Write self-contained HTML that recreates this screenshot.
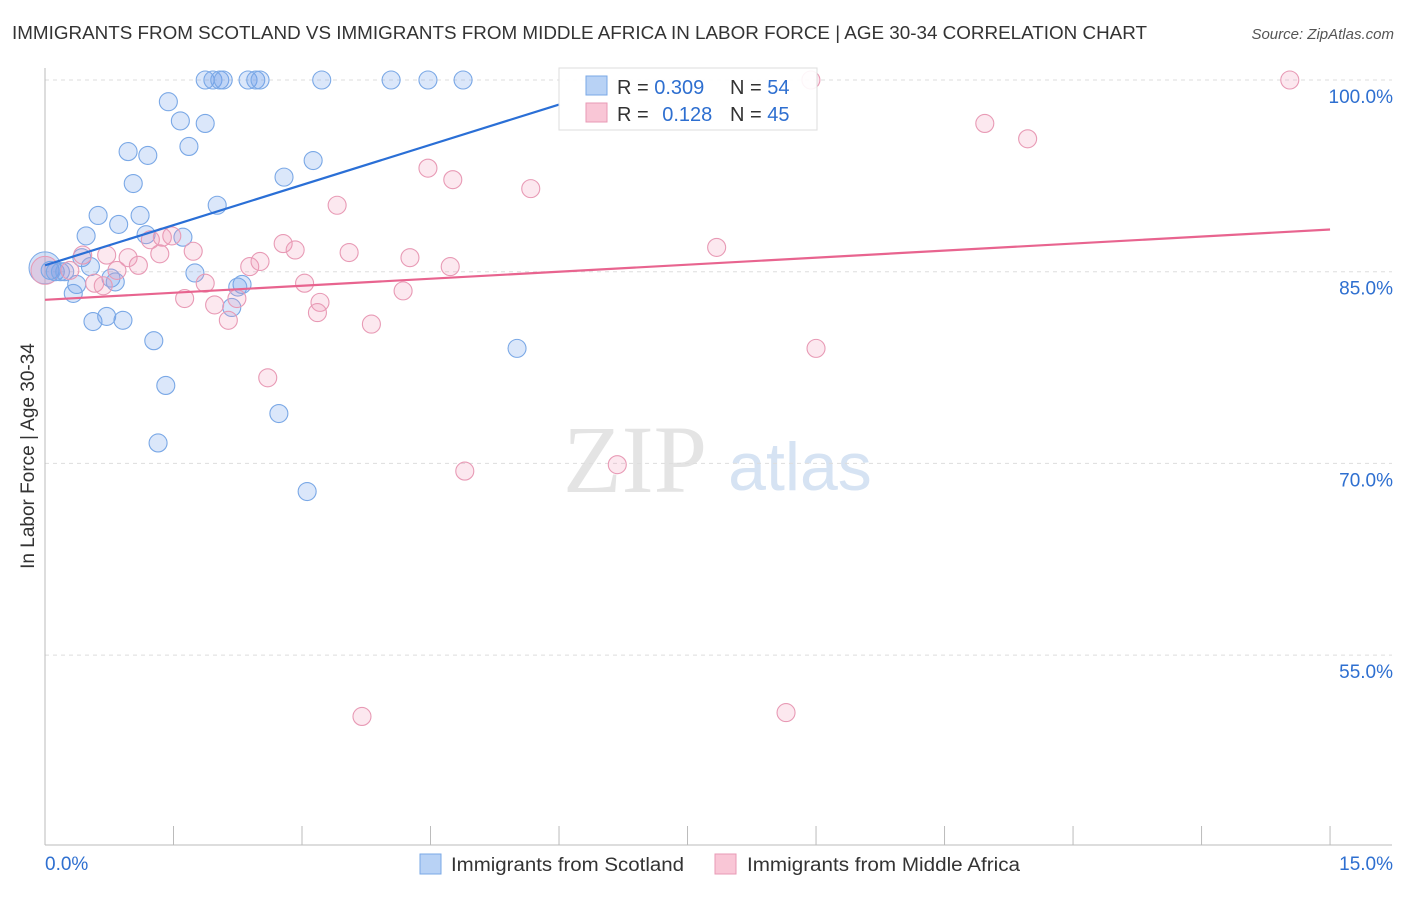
<!DOCTYPE html>
<html><head><meta charset="utf-8"><style>
body{margin:0;background:#fff;font-family:"Liberation Sans",sans-serif;}
</style></head><body>
<svg id="c" width="1406" height="892" xmlns="http://www.w3.org/2000/svg">
<text x="12" y="39" font-size="18" fill="#333" textLength="1135" lengthAdjust="spacingAndGlyphs">IMMIGRANTS FROM SCOTLAND VS IMMIGRANTS FROM MIDDLE AFRICA IN LABOR FORCE | AGE 30-34 CORRELATION CHART</text>
<text x="1394" y="39" font-size="15" fill="#555" font-style="italic" text-anchor="end">Source: ZipAtlas.com</text>
<text x="635" y="492" font-size="96" fill="#e4e4e4" font-family="Liberation Serif" text-anchor="middle">ZIP</text>
<text x="800" y="490" font-size="68" fill="#d6e3f3" text-anchor="middle">atlas</text>
<g id="grid"></g><g id="axes"></g><g id="pts"></g><g id="lines"></g>
<text transform="translate(34,456) rotate(-90)" font-size="19" fill="#333" text-anchor="middle">In Labor Force | Age 30-34</text>
<g>
<rect x="559" y="68" width="258" height="62" fill="rgba(255,255,255,0.9)" stroke="#ddd"/>
<rect x="586" y="76" width="21" height="19" fill="#b8d2f5" stroke="#7aa8e6"/>
<text x="617" y="94" font-size="20" fill="#333">R = <tspan fill="#2e6fd0">0.309</tspan></text>
<text x="730" y="94" font-size="20" fill="#333">N = <tspan fill="#2e6fd0">54</tspan></text>
<rect x="586" y="103" width="21" height="19" fill="#f9c6d6" stroke="#e89ab5"/>
<text x="617" y="121" font-size="20" fill="#333">R = <tspan fill="#2e6fd0" dx="8">0.128</tspan></text>
<text x="730" y="121" font-size="20" fill="#333">N = <tspan fill="#2e6fd0">45</tspan></text>
</g>
<g>
<rect x="420" y="854" width="21" height="20" fill="#b8d2f5" stroke="#7aa8e6"/>
<text x="451" y="871" font-size="19" fill="#333" textLength="233" lengthAdjust="spacingAndGlyphs">Immigrants from Scotland</text>
<rect x="715" y="854" width="21" height="20" fill="#f9c6d6" stroke="#e89ab5"/>
<text x="747" y="871" font-size="19" fill="#333" textLength="273" lengthAdjust="spacingAndGlyphs">Immigrants from Middle Africa</text>
</g>
</svg>
<script>
const yTicks=[100,85,70,55];
const yTickLabels=["100.0%","85.0%","70.0%","55.0%"];
const xTicks=[0,1.5,3,4.5,6,7.5,9,10.5,12,13.5,15];
const blueX=[1.87,1.96,2.04,2.08,2.37,2.46,2.51,3.23,4.04,4.47,4.88,1.44,1.58,1.87,1.68,0.97,1.2,3.13,1.03,2.79,2.01,0.62,1.11,0.86,0.48,1.18,1.61,0.43,0.53,0.06,0.12,0.18,0.23,0.77,0.82,1.75,0.37,2.3,2.25,0.33,0.56,0.72,0.91,2.18,1.27,5.51,1.41,2.73,1.32,3.06];
const blueY=[100,100,100,100,100,100,100,100,100,100,100,98.3,96.8,96.6,94.8,94.4,94.1,93.7,91.9,92.4,90.2,89.4,89.4,88.7,87.8,87.9,87.7,86.1,85.4,85.1,85,85,85,84.5,84.2,84.9,84,84,83.8,83.3,81.1,81.5,81.2,82.2,79.6,79,76.1,73.9,71.6,67.8];
const pinkX=[14.53,8.94,10.97,11.47,4.47,4.76,5.67,3.41,1.48,1.23,1.37,1.73,2.78,2.92,3.55,7.84,4.26,4.73,0.72,0.97,1.09,1.34,0.84,0.44,0.29,2.39,2.51,3.03,0.58,0.68,1.87,1.63,1.98,2.24,3.21,3.18,2.14,3.81,4.18,9,2.6,6.68,4.9,3.7,8.65];
const pinkY=[100,100,96.6,95.4,93.1,92.2,91.5,90.2,87.8,87.5,87.7,86.6,87.2,86.7,86.5,86.9,86.1,85.4,86.3,86.1,85.5,86.4,85.1,86.3,85.1,85.4,85.8,84.1,84.1,83.9,84.1,82.9,82.4,82.9,82.6,81.8,81.2,80.9,83.5,79,76.7,69.9,69.4,50.2,50.5];
const blueTrend=[85.5,98.1];
const blueTrendX=[0,6.01];
const pinkTrend=[82.8,88.3];
const pinkTrendX=[0,15];
const X=v=>45+v*85.67, Y=v=>80+(100-v)*12.78;
const NS="http://www.w3.org/2000/svg";
function mk(t,a,p){const e=document.createElementNS(NS,t);for(const k in a)e.setAttribute(k,a[k]);document.getElementById(p).appendChild(e);return e;}
yTicks.forEach((t,i)=>{
 const l=mk('line',{x1:45,x2:1392,y1:Y(t),y2:Y(t),stroke:'#ddd','stroke-dasharray':'4,4'},'grid');
 
 
 const tx=mk('text',{x:1393,y:Y(t)+23,'font-size':19,fill:'#2e6fd0','text-anchor':'end'},'grid');
 tx.textContent=yTickLabels[i];
 
 
});
const ya=mk('line',{x1:45,x2:45,y1:68,y2:845,stroke:'#bbb'},'axes');


const xa=mk('line',{x1:45,x2:1392,y1:845,y2:845,stroke:'#bbb'},'axes');


xTicks.forEach(t=>{const l=mk('line',{x1:X(t),x2:X(t),y1:826,y2:845,stroke:'#bbb'},'axes');
 
 });
const xl0=mk('text',{x:45,y:870,'font-size':19,fill:'#2e6fd0'},'axes');xl0.textContent='0.0%';


const xl1=mk('text',{x:1393,y:870,'font-size':19,fill:'#2e6fd0','text-anchor':'end'},'axes');xl1.textContent='15.0%';


const b1=mk('circle',{cx:X(0),cy:Y(85.3),r:16,fill:'rgba(110,160,235,0.3)',stroke:'#7aa8e6'},'pts');


const b2=mk('circle',{cx:X(0),cy:Y(85.1),r:14,fill:'rgba(240,150,180,0.3)',stroke:'#e89ab5'},'pts');


blueX.forEach((x,i)=>{const c=mk('circle',{cx:X(x),cy:Y(blueY[i]),r:9,fill:'rgba(110,160,235,0.25)',stroke:'#7aa8e6','stroke-width':1.1},'pts');
 
 });
pinkX.forEach((x,i)=>{const c=mk('circle',{cx:X(x),cy:Y(pinkY[i]),r:9,fill:'rgba(240,150,180,0.22)',stroke:'#e89ab5','stroke-width':1.1},'pts');
 
 });
const bl=mk('line',{x1:X(blueTrendX[0]),y1:Y(blueTrend[0]),x2:X(blueTrendX[1]),y2:Y(blueTrend[1]),stroke:'#2a6fd6','stroke-width':2.2},'lines');


const pl=mk('line',{x1:X(pinkTrendX[0]),y1:Y(pinkTrend[0]),x2:X(pinkTrendX[1]),y2:Y(pinkTrend[1]),stroke:'#e8648f','stroke-width':2.2},'lines');


</script>
</body></html>
